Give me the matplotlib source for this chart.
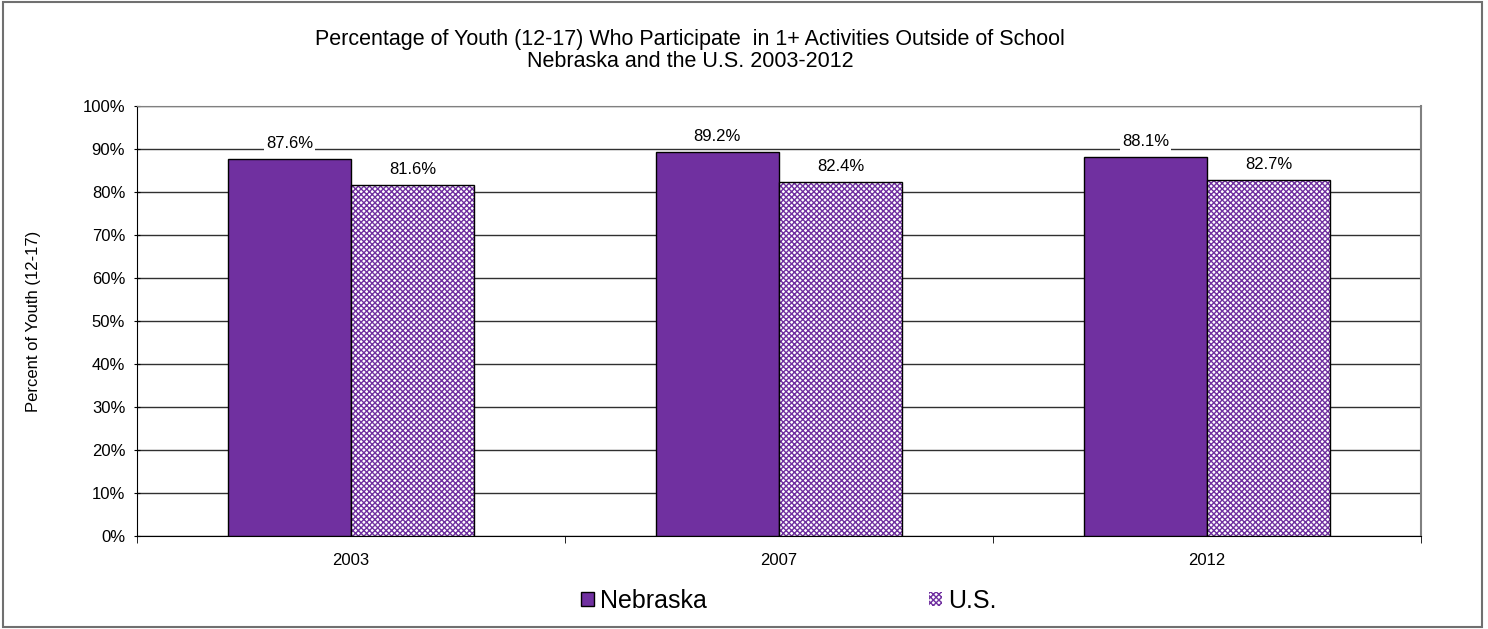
import numpy as np
import matplotlib.pyplot as plt
from matplotlib.patches import Rectangle, Patch

# -------------------------------------------------
# Data
# -------------------------------------------------
years = ["2003", "2007", "2012"]
nebraska = [87.6, 89.2, 88.1]
us = [81.6, 82.4, 82.7]

purple = "#7030A0"

plt.rcParams["font.family"] = ["Liberation Sans", "DejaVu Sans"]
plt.rcParams["hatch.linewidth"] = 1.0

fig = plt.figure(figsize=(14.88, 6.29), dpi=100)
ax = fig.add_axes([137 / 1488, 1 - 536 / 629, (1421 - 137) / 1488, (536 - 106) / 629])

x = np.arange(len(years))
w = 0.288

# Nebraska bars (solid)
b1 = ax.bar(x - w / 2, nebraska, w, color=purple, edgecolor="black", linewidth=1, zorder=3)

# U.S. bars (checkered pattern)
plt.rcParams["hatch.color"] = purple
b2 = ax.bar(x + w / 2, us, w, color="white", edgecolor=purple, hatch="xxxxxx", linewidth=0, zorder=3)
ax.bar(x + w / 2, us, w, fill=False, edgecolor="black", linewidth=1, zorder=4)

# legend handle for U.S.: hatched with black outline
try:
    us_handle = Patch(facecolor="white", edgecolor="black", hatchcolor=purple, hatch="xxxxxx", linewidth=1)
except (AttributeError, TypeError):
    us_handle = b2

# value labels
for xi, v in zip(x - w / 2, nebraska):
    ax.text(xi, v + 1.9, f"{v:.1f}%", ha="center", va="bottom", fontsize=12,
            bbox=dict(facecolor="white", edgecolor="none", pad=1.5), zorder=5)
for xi, v in zip(x + w / 2, us):
    ax.text(xi, v + 1.9, f"{v:.1f}%", ha="center", va="bottom", fontsize=12,
            bbox=dict(facecolor="white", edgecolor="none", pad=1.5), zorder=5)

# axes formatting
ax.set_xlim(-0.5, len(years) - 0.5)
ax.set_ylim(0, 100)
ax.set_yticks(np.arange(0, 101, 10))
ax.set_yticklabels([f"{t}%" for t in range(0, 101, 10)], fontsize=12)
ax.set_xticks(x)
ax.set_xticklabels(years, fontsize=12)
ax.set_xticks(np.arange(-0.5, len(years), 1), minor=True)
ax.tick_params(axis="x", which="major", length=0, pad=12)
ax.tick_params(axis="x", which="minor", length=5, direction="out", color="black")
ax.tick_params(axis="y", length=5, direction="inout", color="black", pad=6)
ax.yaxis.grid(True, color="#303030", linewidth=1)
ax.set_axisbelow(True)

ax.spines["left"].set_color("black")
ax.spines["bottom"].set_color("black")
ax.spines["top"].set_color("#808080")
ax.spines["right"].set_color("#808080")
ax.spines["right"].set_linewidth(1.5)

ax.set_ylabel("Percent of Youth (12-17)", fontsize=12, labelpad=30)

fig.text(0.464, 0.885, "Percentage of Youth (12-17) Who Participate  in 1+ Activities Outside of School\nNebraska and the U.S. 2003-2012",
         ha="center", va="bottom", fontsize=15.5, linespacing=1.1)

# legend
fig.legend([b1, us_handle], ["Nebraska", "U.S."], loc="center", bbox_to_anchor=(0.530, 0.045),
           ncol=2, frameon=False, fontsize=18, handlelength=0.52, handleheight=0.52,
           handletextpad=0.24, columnspacing=8.9)

# outer border
fig.patches.append(Rectangle((0.002, 0.003), 0.994, 0.994, transform=fig.transFigure,
                             fill=False, edgecolor="#707070", linewidth=1.5))

fig.savefig("out.png", dpi=100)
